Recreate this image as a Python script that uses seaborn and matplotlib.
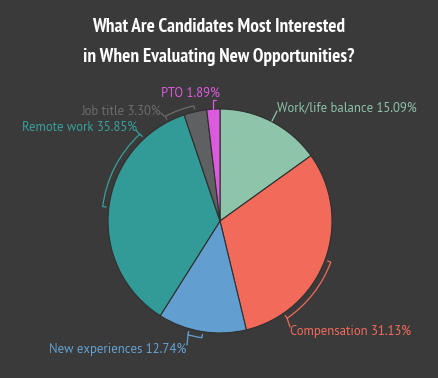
import numpy as np
import matplotlib
matplotlib.use('Agg')
import matplotlib.pyplot as plt
import seaborn as sns
from matplotlib.patches import Arc

# Data
categories = ['Work/life balance', 'Compensation', 'New experiences', 'Remote work', 'Job title', 'PTO']
shares = [15.09, 31.13, 12.74, 35.85, 3.30, 1.89]
slice_colors = ['#8ec4a9', '#f26b5a', '#629fd0', '#339b97', '#5f6061', '#dc5ade']
label_colors = ['#8ec4a9', '#f26b5a', '#64a2d4', '#36a19c', '#6c6c6c', '#dc5ade']

bg = '#3a3a3a'
sns.set_theme(style='dark', rc={'figure.facecolor': bg, 'axes.facecolor': bg})
plt.rcParams['font.family'] = ['PT Sans', 'DejaVu Sans']

fig = plt.figure(figsize=(4.38, 3.78), dpi=100)
ax = fig.add_axes([0, 0, 1, 1])

# pixel helpers: pie centre at (220, 221), radius 112 px
CX, CY, R = 220, 221, 112
def px(x, y):
    return ((x - CX) / R, (CY - y) / R)

ax.pie(shares, colors=slice_colors, startangle=90, counterclock=False,
       radius=1.0, wedgeprops=dict(edgecolor='#2f2f2f', linewidth=0.8))
ax.set_xlim(-CX / R, (438 - CX) / R)
ax.set_ylim(-(378 - CY) / R, CY / R)
ax.set_aspect('equal')
ax.axis('off')

# label layout: text anchor (px), alignment, bracket angles (deg) or None, leader line (px)
layout = {
    'Work/life balance': dict(xy=(277, 108), ha='left', arc=None, line=[(272, 121), (277, 111)]),
    'Compensation': dict(xy=(290, 331), ha='left', arc=(-55.4, -20.4), line=[(287, 318), (290, 327)]),
    'New experiences': dict(xy=(186, 349), ha='right', arc=(-105.8, -98.8), line=[(188, 335), (187, 345)]),
    'Remote work': dict(xy=(137, 127), ha='right', arc=(132.6, 173.0), line=[(140, 135), (136, 130)]),
    'Job title': dict(xy=(161, 111), ha='right', arc=(102.8, 117.6), line=[(164, 116), (161, 113)]),
    'PTO': dict(xy=(161, 93), ha='left', arc=None, line=[(213, 109), (213, 100), (216, 100)]),
}

rb = 1.055
for cat, val, col in zip(categories, shares, label_colors):
    lay = layout[cat]
    if lay['arc'] is not None:
        a0, a1 = lay['arc']
        ax.add_patch(Arc((0, 0), 2 * rb, 2 * rb, theta1=a0, theta2=a1,
                         color=col, lw=0.9))
        for a in (a0, a1):
            t = np.radians(a)
            ax.plot([1.025 * np.cos(t), rb * np.cos(t)], [1.025 * np.sin(t), rb * np.sin(t)],
                    color=col, lw=0.9)
    pts = [px(*p) for p in lay['line']]
    ax.plot([p[0] for p in pts], [p[1] for p in pts], color=col, lw=0.9)
    tx, ty = px(*lay['xy'])
    ax.text(tx, ty, f'{cat} {val:.2f}%', color=col, fontsize=9.2,
            ha=lay['ha'], va='center')

title_font = ['PT Sans Narrow', 'DejaVu Sans']
fig.text(0.5, 1 - 27 / 378, 'What Are Candidates Most Interested', ha='center', va='center',
         color='white', fontsize=13.8, fontweight='bold', family=title_font)
fig.text(0.5, 1 - 57 / 378, 'in When Evaluating New Opportunities?', ha='center', va='center',
         color='white', fontsize=13.8, fontweight='bold', family=title_font)

fig.savefig('out.png', dpi=100, facecolor=bg)
